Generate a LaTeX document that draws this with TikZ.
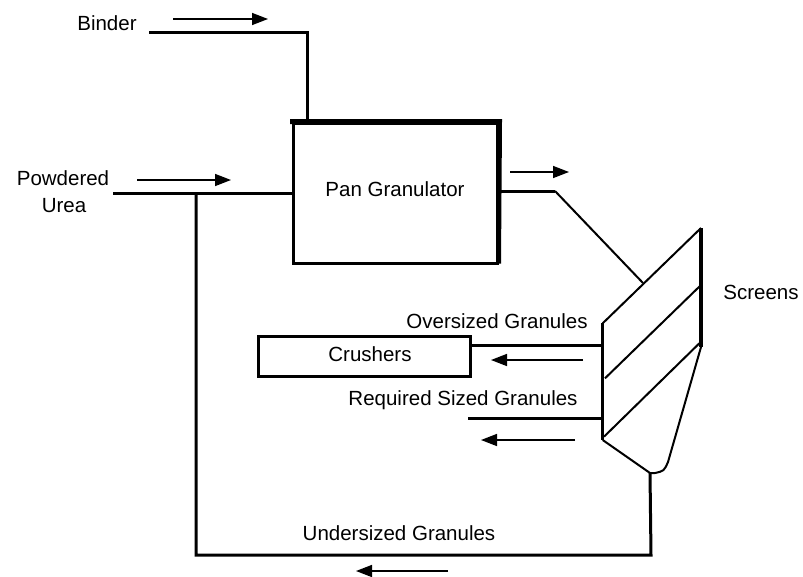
\documentclass[tikz,border=0pt]{standalone}
\usepackage{fontspec}
\setmainfont{Liberation Sans}
\usetikzlibrary{arrows.meta}
\begin{document}
\begin{tikzpicture}[x=1pt,y=-1pt,
  txt/.style={inner sep=0pt,font=\fontsize{20.5}{24}\selectfont},
  pipe/.style={line width=3pt},
  thin/.style={line width=2pt},
  flow/.style={line width=1.5pt,-{Triangle[length=16pt,width=12pt]}},
  unitbox/.style={draw,line width=3pt,inner sep=0pt,font=\fontsize{20.5}{24}\selectfont}]
\useasboundingbox (0,0) rectangle (803,576);
% Pan granulator
\node[unitbox,minimum width=204pt,minimum height=140pt] (pan) at (395,193) {\raisebox{8pt}{Pan Granulator}};
\draw[line width=5pt] ([xshift=-1.5pt]pan.north west) -- ([xshift=1pt]pan.north east) -- ([yshift=1pt]pan.south east);
% Crushers
\node[unitbox,minimum width=212pt,minimum height=40pt] (cru) at (364,356) {\hspace{12pt}\raisebox{4pt}{Crushers}};
% labels
\node[txt] (binder) at (107,23) {Binder};
\node[txt] (powd) at (63,178) {Powdered};
\node[txt] (urea) at (64,206) {Urea};
\node[txt] (over) at (497,321) {Oversized Granules};
\node[txt] (req) at (463,400) {Required Sized Granules};
\node[txt] (scr) at (761,292) {Screens};
\node[txt] (under) at (399,533) {Undersized Granules};
% coordinates
\coordinate (bs) at (149,32);
\coordinate (bin) at (307,123);
\coordinate (us) at (113,193);
\coordinate (j) at (196,193);
\coordinate (bl) at (196,555);
\coordinate (br) at (651,555);
\coordinate (o1) at (497,191);
\coordinate (o2) at (555,191);
\coordinate (o3) at (643,283);
% screens
\coordinate (stl) at (602.7,323.3);
\coordinate (str) at (701,228);
\coordinate (srb) at (701,347);
\coordinate (slb) at (602.7,440);
\coordinate (apex) at (650,473);
\coordinate (sc) at (668,462);
\coordinate (cr) at (602.7,345);
\coordinate (rq) at (602.7,418);
\coordinate (rqe) at (468,418);
% screens body
\draw[thin] (stl) -- (str);
\draw[line width=3.5pt] (str) -- (srb);
\draw[line width=3.5pt] (stl) -- (slb);
\draw[thin] (605,378.3) -- (701,285);
\draw[thin] (604,436.7) -- (701,341.7);
\draw[thin] (slb) -- (apex) -- (655,473) .. controls (664,471) .. (sc) -- (srb);
% pipes
\draw[pipe] (bs) -| (bin);
\draw[pipe] (us) -- (pan.west);
\draw[pipe] (j) -- (bl) -- (br) -- (apex);
\draw[pipe] (o1) -- (o2);
\draw[thin] (o2) -- (o3);
\draw[pipe] (cru.east |- cr) -- (cr);
\draw[pipe] (rqe) -- (rq);
% flow arrows
\draw[flow] (173,19) -- (268,19);
\draw[flow] (137,180) -- (231,180);
\draw[flow] (510,172) -- (569,172);
\draw[flow] (583,360) -- (491,360);
\draw[flow] (575,440) -- (481,440);
\draw[flow] (448,571) -- (356,571);
\end{tikzpicture}
\end{document}
